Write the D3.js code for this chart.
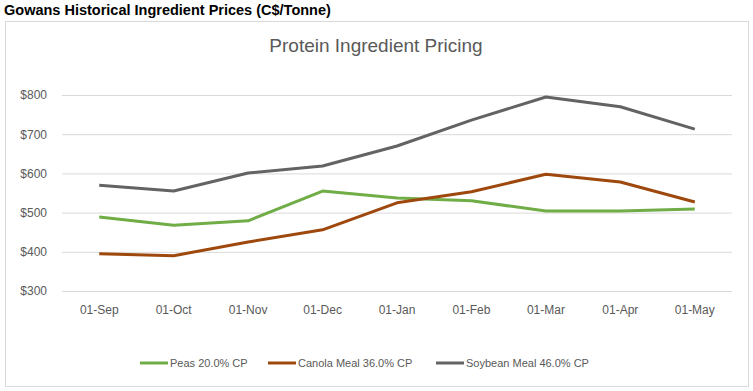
<!DOCTYPE html>
<html>
<head>
<meta charset="utf-8">
<script src="https://cdn.jsdelivr.net/npm/d3@7"></script>
<style>
  body { margin: 0; background: #fff; }
  text { font-family: "Liberation Sans", Arial, sans-serif; }
</style>
</head>
<body>
<div id="chart"></div>
<script>
// Chart size and plot area
const width = 753;
const height = 391;
const plot = {left: 62, right: 732, top: 95, bottom: 291};

// Data
const months = ["01-Sep", "01-Oct", "01-Nov", "01-Dec", "01-Jan", "01-Feb", "01-Mar", "01-Apr", "01-May"];
const peas = [489, 468, 479, 555, 537, 530, 504, 504, 509];
const canola = [395, 390, 425, 456, 525, 553, 598, 578, 527];
const soybean = [570, 555, 601, 619, 670, 736, 795, 770, 713];
const yTicks = [300, 400, 500, 600, 700, 800];

const series = [
  {name: "Peas 20.0% CP", values: peas, color: "#70AD47"},
  {name: "Canola Meal 36.0% CP", values: canola, color: "#9E480E"},
  {name: "Soybean Meal 46.0% CP", values: soybean, color: "#636363"}
];

const svg = d3.select("#chart")
  .append("svg")
  .attr("width", width)
  .attr("height", height);

// heading above the chart box
svg.append("text")
  .attr("x", 4)
  .attr("y", 15)
  .attr("font-size", "14.5px")
  .attr("font-weight", "bold")
  .attr("fill", "#000")
  .text("Gowans Historical Ingredient Prices (C$/Tonne)");

// chart box
svg.append("rect")
  .attr("x", 5.5)
  .attr("y", 21.5)
  .attr("width", 743)
  .attr("height", 365)
  .attr("fill", "#fff")
  .attr("stroke", "#d9d9d9");

svg.append("text")
  .attr("x", 376)
  .attr("y", 52)
  .attr("text-anchor", "middle")
  .attr("font-size", "19px")
  .attr("fill", "#595959")
  .text("Protein Ingredient Pricing");

// scales
const x = d3.scaleBand()
  .domain(months)
  .range([plot.left, plot.right]);

const y = d3.scaleLinear()
  .domain([300, 800])
  .range([plot.bottom, plot.top]);

// gridlines + y labels
const yAxis = svg.append("g")
  .attr("transform", `translate(${plot.left},0)`)
  .call(d3.axisLeft(y)
    .tickValues(yTicks)
    .tickSize(-(plot.right - plot.left))
    .tickPadding(15)
    .tickFormat(d => "$" + d));
yAxis.select(".domain").remove();
yAxis.selectAll(".tick line").attr("stroke", "#d9d9d9");
yAxis.selectAll(".tick text")
  .attr("fill", "#595959")
  .attr("font-size", "12px");

// x labels
const xAxis = svg.append("g")
  .attr("transform", `translate(0,${plot.bottom})`)
  .call(d3.axisBottom(x).tickSize(0).tickPadding(14));
xAxis.select(".domain").remove();
xAxis.selectAll(".tick text")
  .attr("fill", "#595959")
  .attr("font-size", "12px");

// lines
const line = d3.line()
  .x((d, i) => x(months[i]) + x.bandwidth() / 2)
  .y(d => y(d));

svg.selectAll(".series")
  .data(series)
  .enter()
  .append("path")
  .attr("class", "series")
  .attr("d", d => line(d.values))
  .attr("fill", "none")
  .attr("stroke", d => d.color)
  .attr("stroke-width", 3)
  .attr("stroke-linejoin", "round");

// legend
const legendX = [140, 268, 436];
const legend = svg.selectAll(".legend")
  .data(series)
  .enter()
  .append("g")
  .attr("class", "legend")
  .attr("transform", (d, i) => `translate(${legendX[i]},363)`);

legend.append("line")
  .attr("x1", 0)
  .attr("x2", 28)
  .attr("stroke", d => d.color)
  .attr("stroke-width", 3);

legend.append("text")
  .attr("x", 30)
  .attr("y", 4)
  .attr("font-size", "11px")
  .attr("fill", "#595959")
  .text(d => d.name);
</script>
</body>
</html>
